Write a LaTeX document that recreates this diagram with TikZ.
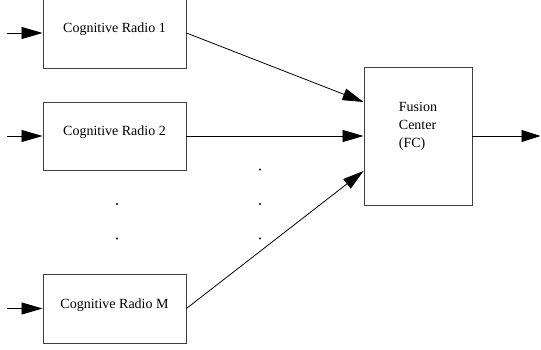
\documentclass[tikz,border=0pt]{standalone}
\usepackage{fontspec}
\setmainfont{Liberation Serif}
\usetikzlibrary{arrows.meta}
\begin{document}
\begin{tikzpicture}[x=1pt,y=-1pt,
  crbox/.style={draw=black!75,line width=0.9pt,minimum width=143pt,inner sep=0pt,
    font=\fontsize{14}{18}\selectfont,text depth=10pt},
  fcbox/.style={draw=black!75,line width=0.9pt,minimum width=108pt,minimum height=138pt,inner sep=0pt,
    font=\fontsize{14}{18}\selectfont,align=left,text depth=22pt},
  conn/.style={line width=0.8pt,-{Triangle[length=21pt,width=12pt]}},
  dotnode/.style={circle,fill=black,inner sep=0pt,minimum size=2.2pt}]
\useasboundingbox (0,0) rectangle (541,350);
\node[crbox,minimum height=70pt] (r1) at (114.5,33) {Cognitive Radio 1};
\node[crbox,minimum height=68pt] (r2) at (114.5,136) {Cognitive Radio 2};
\node[crbox,minimum height=69pt] (rM) at (114.5,308.5) {Cognitive Radio M};
\node[fcbox] (fc) at (418,136) {Fusion\\Center\\(FC)};
\coordinate (i1) at (7,33);
\coordinate (i2) at (7,136);
\coordinate (iM) at (7,308.5);
\coordinate (out) at (540.5,136);
\draw[conn] (i1) -- (r1.west);
\draw[conn] (i2) -- (r2.west);
\draw[conn] (iM) -- (rM.west);
\draw[conn] (r1.east) -- ([yshift=34pt]fc.west);
\draw[conn] (r2.east) -- (fc.west);
\draw[conn] (rM.east) -- ([yshift=-35pt]fc.west);
\draw[conn,-{Triangle[length=19pt,width=12pt]}] (fc.east) -- (out);
\node[dotnode] (d1) at (117,204) {};
\node[dotnode] (d2) at (117,238.5) {};
\node[dotnode] (d3) at (260,169.5) {};
\node[dotnode] (d4) at (260,204) {};
\node[dotnode] (d5) at (260,238.5) {};
\end{tikzpicture}
\end{document}
